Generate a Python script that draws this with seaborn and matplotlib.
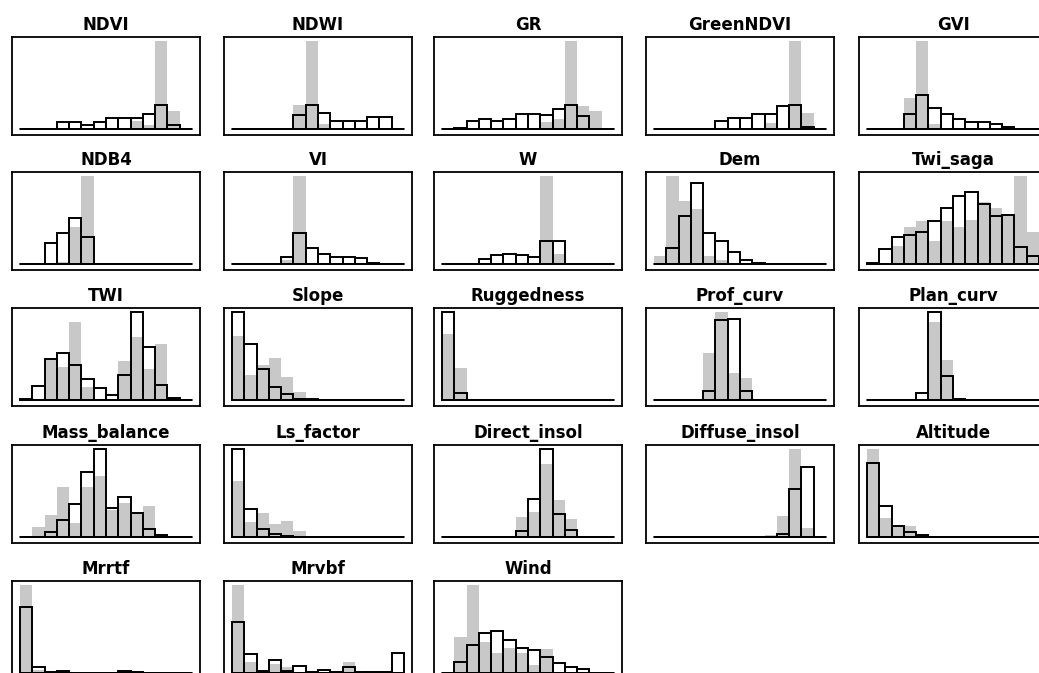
import numpy as np
import pandas as pd
import seaborn as sns
from matplotlib import pyplot as plt

# bin counts, 14 bins per panel
# *_all = grey background histogram, *_sub = black outlined histogram
ndvi_all = [0, 0, 0, 0, 0, 0, 0, 0, 0, 25, 13, 265, 55, 0]
ndvi_sub = [0, 0, 2, 23, 23, 13, 23, 35, 35, 35, 46, 72, 13, 0]
ndwi_all = [0, 0, 0, 0, 0, 73, 265, 16, 0, 0, 0, 0, 0, 0]
ndwi_sub = [0, 0, 0, 0, 0, 43, 72, 48, 26, 26, 26, 36, 38, 2]
gr_all = [0, 0, 0, 0, 0, 0, 0, 0, 22, 30, 265, 70, 56, 0]
gr_sub = [0, 4, 26, 30, 26, 30, 46, 46, 43, 60, 72, 40, 2, 0]
greenndvi_all = [0, 0, 0, 0, 0, 0, 0, 0, 0, 20, 5, 265, 48, 0]
greenndvi_sub = [0, 0, 0, 0, 0, 26, 35, 35, 46, 46, 70, 72, 8, 0]
gvi_all = [0, 0, 0, 95, 265, 16, 0, 0, 0, 0, 0, 0, 0, 0]
gvi_sub = [0, 0, 0, 45, 103, 63, 45, 30, 23, 23, 15, 7, 0, 0]

ndb4_all = [0, 0, 0, 8, 114, 266, 0, 0, 0, 0, 0, 0, 0, 0]
ndb4_sub = [0, 0, 65, 95, 141, 83, 0, 0, 0, 0, 0, 0, 0, 0]
vi_all = [0, 0, 0, 0, 14, 266, 0, 0, 0, 0, 0, 0, 0, 0]
vi_sub = [0, 0, 0, 0, 23, 95, 49, 31, 23, 23, 18, 3, 0, 0]
w_all = [0, 0, 0, 0, 0, 0, 0, 0, 266, 31, 0, 0, 0, 0]
w_sub = [0, 0, 0, 16, 27, 31, 27, 23, 69, 69, 0, 0, 0, 0]
dem_all = [24, 266, 193, 168, 24, 14, 0, 0, 0, 0, 0, 0, 0, 0]
dem_sub = [0, 49, 146, 246, 96, 69, 38, 12, 3, 0, 0, 0, 0, 0]
twi_saga_all = [0, 0, 54, 114, 131, 71, 131, 114, 133, 188, 171, 146, 266, 98]
twi_saga_sub = [3, 46, 83, 89, 99, 131, 171, 208, 218, 183, 146, 148, 53, 26]

twi_all = [8, 0, 120, 100, 235, 40, 0, 0, 117, 192, 93, 170, 8, 0]
twi_sub = [3, 43, 125, 143, 105, 63, 38, 15, 75, 265, 160, 47, 8, 0]
slope_all = [193, 75, 105, 127, 70, 25, 5, 0, 0, 0, 0, 0, 0, 0]
slope_sub = [265, 170, 93, 40, 20, 5, 3, 0, 0, 0, 0, 0, 0, 0]
rugged_all = [202, 99, 0, 0, 0, 0, 0, 0, 0, 0, 0, 0, 0, 0]
rugged_sub = [267, 22, 0, 0, 0, 0, 0, 0, 0, 0, 0, 0, 0, 0]
prof_all = [0, 0, 0, 0, 145, 269, 85, 69, 0, 0, 0, 0, 0, 0]
prof_sub = [0, 0, 0, 0, 27, 247, 249, 27, 0, 0, 0, 0, 0, 0]
plan_all = [0, 0, 0, 0, 0, 237, 122, 2, 0, 0, 0, 0, 0, 0]
plan_sub = [0, 0, 0, 0, 22, 265, 73, 5, 0, 0, 0, 0, 0, 0]

mass_all = [0, 31, 66, 149, 43, 149, 183, 81, 103, 73, 93, 3, 0, 0]
mass_sub = [0, 2, 16, 51, 99, 193, 261, 88, 121, 73, 26, 8, 1, 0]
ls_all = [166, 46, 71, 39, 49, 19, 0, 0, 0, 0, 0, 0, 0, 0]
ls_sub = [261, 85, 26, 9, 3, 1, 1, 1, 1, 0, 0, 0, 0, 0]
direct_all = [0, 0, 0, 0, 0, 0, 59, 75, 217, 110, 55, 4, 0, 0]
direct_sub = [0, 0, 0, 1, 1, 1, 20, 114, 262, 70, 22, 1, 1, 0]
diffuse_all = [0, 0, 0, 0, 0, 0, 0, 0, 2, 7, 64, 262, 29, 0]
diffuse_sub = [0, 0, 0, 0, 0, 0, 0, 1, 1, 1, 10, 144, 209, 2]
altitude_all = [262, 57, 30, 35, 7, 0, 0, 0, 0, 0, 0, 0, 0, 0]
altitude_sub = [222, 94, 35, 17, 7, 1, 1, 1, 0, 0, 0, 0, 0, 0]

mrrtf_all = [264, 11, 3, 3, 0, 0, 0, 0, 3, 2, 0, 0, 0, 0]
mrrtf_sub = [199, 19, 4, 7, 2, 2, 2, 2, 7, 4, 2, 0, 0, 0]
mrvbf_all = [264, 34, 5, 27, 19, 5, 0, 5, 0, 34, 0, 0, 0, 0]
mrvbf_sub = [154, 59, 7, 39, 7, 21, 3, 11, 3, 19, 5, 3, 5, 62]
wind_all = [0, 108, 263, 93, 60, 76, 60, 26, 73, 0, 0, 0, 0, 0]
wind_sub = [0, 33, 86, 120, 128, 101, 76, 70, 48, 32, 18, 13, 0, 0]

titles = ['NDVI', 'NDWI', 'GR', 'GreenNDVI', 'GVI',
          'NDB4', 'VI', 'W', 'Dem', 'Twi_saga',
          'TWI', 'Slope', 'Ruggedness', 'Prof_curv', 'Plan_curv',
          'Mass_balance', 'Ls_factor', 'Direct_insol', 'Diffuse_insol', 'Altitude',
          'Mrrtf', 'Mrvbf', 'Wind']
panels = [(ndvi_all, ndvi_sub), (ndwi_all, ndwi_sub), (gr_all, gr_sub),
          (greenndvi_all, greenndvi_sub), (gvi_all, gvi_sub),
          (ndb4_all, ndb4_sub), (vi_all, vi_sub), (w_all, w_sub),
          (dem_all, dem_sub), (twi_saga_all, twi_saga_sub),
          (twi_all, twi_sub), (slope_all, slope_sub), (rugged_all, rugged_sub),
          (prof_all, prof_sub), (plan_all, plan_sub),
          (mass_all, mass_sub), (ls_all, ls_sub), (direct_all, direct_sub),
          (diffuse_all, diffuse_sub), (altitude_all, altitude_sub),
          (mrrtf_all, mrrtf_sub), (mrvbf_all, mrvbf_sub), (wind_all, wind_sub)]

GREY = '#c8c8c8'
W, H = 1039, 673
COL_LEFT = [12, 224, 434, 646, 859]
ROW_TOP = [37, 172, 308, 445, 581]
BOX_W, BOX_H = 188, 98


def hist_panel(ax, title, all_counts, sub_counts):
    n = len(all_counts)
    df = pd.DataFrame({'bin': np.arange(n) + 0.5,
                       'all': all_counts, 'sub': sub_counts})
    sns.histplot(data=df, x='bin', weights='all', binwidth=1, binrange=(0, n),
                 color=GREY, edgecolor='none', linewidth=0, alpha=1, ax=ax)
    sns.histplot(data=df, x='bin', weights='sub', binwidth=1, binrange=(0, n),
                 fill=False, color='black', linewidth=1.4, ax=ax)
    ax.plot([0, n], [0, 0], color='black', lw=1.3)
    top = max(max(all_counts), max(sub_counts))
    ax.set_xlim(-0.65, n + 0.65)
    ax.set_ylim(-0.065 * top, 1.05 * top)
    ax.set_xticks([])
    ax.set_yticks([])
    ax.set_xlabel('')
    ax.set_ylabel('')
    for sp in ax.spines.values():
        sp.set_visible(True)
        sp.set_color('black')
        sp.set_linewidth(1.3)
    ax.set_title(title, fontsize=12, fontweight='bold', color='black', pad=5)


sns.set_style('white')
plt.rcParams['font.family'] = ['DejaVu Sans']

fig = plt.figure(figsize=(W / 100, H / 100), dpi=100)
for i, (title, (a, s)) in enumerate(zip(titles, panels)):
    r, c = divmod(i, 5)
    x0, y0 = COL_LEFT[c], ROW_TOP[r]
    ax = fig.add_axes([x0 / W, 1 - (y0 + BOX_H) / H, BOX_W / W, BOX_H / H])
    hist_panel(ax, title, a, s)

fig.savefig('out.png', dpi=100)
